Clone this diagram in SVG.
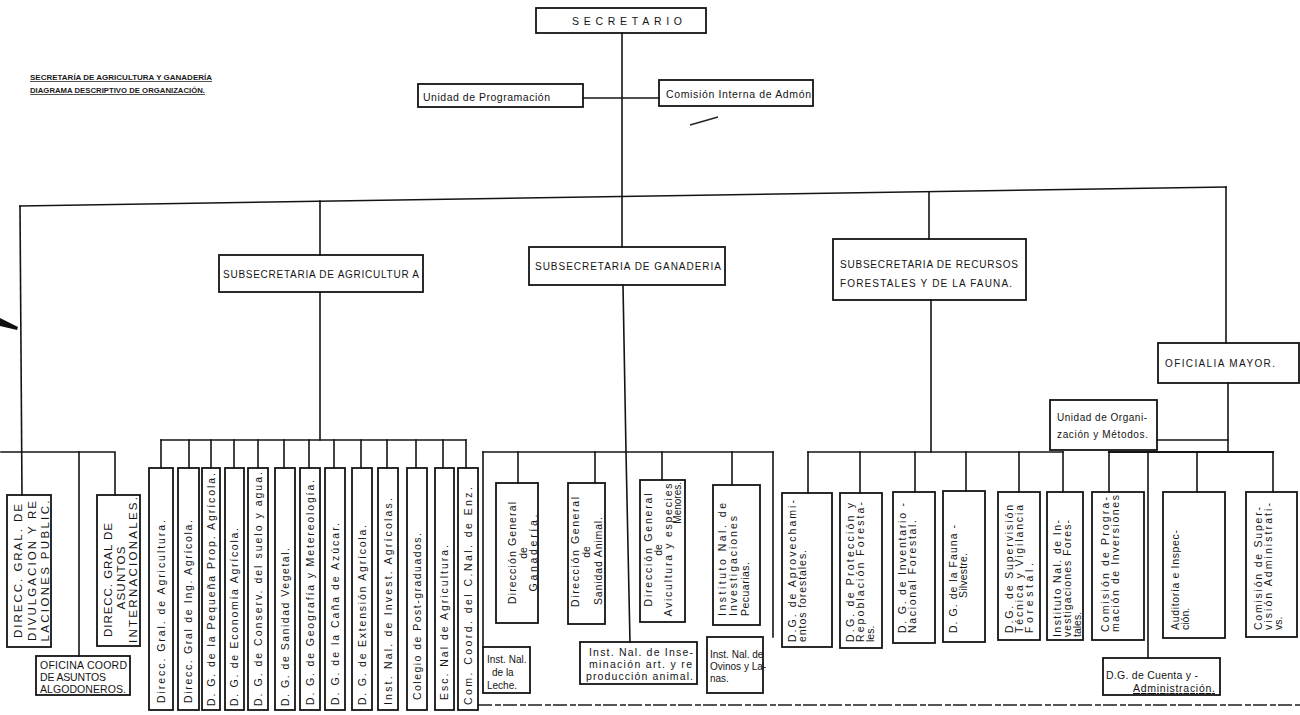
<svg xmlns="http://www.w3.org/2000/svg" width="1300" height="715" viewBox="0 0 1300 715">
<style>
.ln{stroke:#141414;stroke-width:1.6;fill:none;stroke-linecap:square}
.bx{fill:none;stroke:#141414;stroke-width:1.8}
.t{font-family:"Liberation Sans",Arial,sans-serif;fill:#141414;font-size:10.5px}
.s{font-size:10px}
.c{font-size:11.5px}
.h{font-family:"Liberation Sans Narrow","Liberation Sans",Arial,sans-serif;font-size:7.5px;font-weight:bold;fill:#1a1a1a;text-decoration:underline}
.m{text-anchor:middle}
.e{text-anchor:end}
</style>
<rect width="1300" height="715" fill="#ffffff"/>

<g id="header">
<text class="h" x="30" y="80" textLength="182" lengthAdjust="spacingAndGlyphs">SECRETARÍA DE AGRICULTURA Y GANADERÍA</text>
<text class="h" x="30" y="93" textLength="175" lengthAdjust="spacingAndGlyphs">DIAGRAMA DESCRIPTIVO DE ORGANIZACIÓN.</text>
</g>

<g id="marks">
<path d="M690,125 L718,117" stroke="#222" stroke-width="1.5" fill="none"/>
<polygon points="0,318 18,327 17,330 0,326" fill="#111"/>
<path d="M478,705 H1300" stroke="#555" stroke-width="2.2" stroke-dasharray="14 3 6 2" fill="none"/>
</g>

<g id="connectors">
<path class="ln" d="M622,33 V247"/>
<path class="ln" d="M583,98 H659"/>
<path class="ln" d="M20,206 L1226,187"/>
<path class="ln" d="M20,206 L22,495"/>
<path class="ln" d="M320,201 V255"/>
<path class="ln" d="M929,192 V239"/>
<path class="ln" d="M1226,187 V343"/>
<path class="ln" d="M1,452 H115 V495"/>
<path class="ln" d="M79,452 V656"/>
<path class="ln" d="M320,292 V440"/>
<path class="ln" d="M161,440 H466"/>
<path class="ln" d="M161,440 V468 M189,440 V468 M211,440 V468 M234,440 V468 M258,440 V468 M284,440 V468 M309,440 V468 M334,440 V468 M361,440 V468 M387,440 V468 M416,440 V468 M443,440 V468 M466,440 V468"/>
<path class="ln" d="M623,285 L626,452 L630,642"/>
<path class="ln" d="M483,452 H773"/>
<path class="ln" d="M483,452 V647 M518,452 V483 M595,452 V483 M662,452 V480 M732,452 V485 M773,452 V637"/>
<path class="ln" d="M931,300 V452"/>
<path class="ln" d="M808,452 H1063"/>
<path class="ln" d="M808,452 V493 M860,452 V493 M915,452 V492 M966,452 V491 M1019,452 V492 M1063,452 V492"/>
<path class="ln" d="M1228,383 V452"/>
<path class="ln" d="M1157,440 H1228"/>
<path class="ln" d="M1109,452 H1273" style="stroke-width:2.2"/>
<path class="ln" d="M1109,452 V492 M1148,452 V658 M1197,452 V492 M1273,452 V492"/>
</g>

<g id="secretario">
<rect class="bx" x="536" y="8" width="170" height="25"/>
<text class="t" x="572" y="25" textLength="110" lengthAdjust="spacing">SECRETARIO</text>
</g>
<g id="unidad-programacion">
<rect class="bx" x="418" y="84" width="165" height="23"/>
<text class="t" x="423" y="101" textLength="127" lengthAdjust="spacing">Unidad de Programación</text>
</g>
<g id="comision-interna">
<rect class="bx" x="659" y="80" width="154" height="26"/>
<text class="t" x="666" y="98" textLength="145" lengthAdjust="spacing">Comisión Interna de Admón</text>
</g>

<g id="sub-agricultura">
<rect class="bx" x="219" y="255" width="204" height="37"/>
<text class="t s" x="223" y="278" textLength="196" lengthAdjust="spacing">SUBSECRETARIA DE AGRICULTUR A</text>
</g>
<g id="sub-ganaderia">
<rect class="bx" x="529" y="247" width="196" height="38"/>
<text class="t s" x="535" y="270" textLength="186" lengthAdjust="spacing">SUBSECRETARIA DE GANADERIA</text>
</g>
<g id="sub-forestales">
<rect class="bx" x="833" y="239" width="193" height="61"/>
<text class="t s" x="840" y="268" textLength="178" lengthAdjust="spacing">SUBSECRETARIA DE RECURSOS</text>
<text class="t s" x="840" y="287" textLength="172" lengthAdjust="spacing">FORESTALES Y DE LA FAUNA.</text>
</g>
<g id="oficialia-mayor">
<rect class="bx" x="1158" y="343" width="141" height="40"/>
<text class="t s" x="1165" y="367" textLength="110" lengthAdjust="spacing">OFICIALIA MAYOR.</text>
</g>
<g id="unidad-organizacion">
<rect class="bx" x="1050" y="400" width="107" height="50"/>
<text class="t s" x="1057" y="421" textLength="90" lengthAdjust="spacing">Unidad de Organi-</text>
<text class="t s" x="1057" y="438" textLength="91" lengthAdjust="spacing">zación y Métodos.</text>
</g>

<g id="divulgacion">
<rect class="bx" x="7" y="495" width="44" height="152"/>
<g transform="translate(22,571) rotate(-90)">
<text class="t c m" x="0" y="0" textLength="134" lengthAdjust="spacing">DIRECC. GRAL. DE</text>
<text class="t c m" x="0" y="13.5" textLength="140" lengthAdjust="spacing">DIVULGACION Y RE</text>
<text class="t c m" x="0" y="27" textLength="141" lengthAdjust="spacing">LACIONES PUBLIC.</text>
</g>
</g>
<g id="asuntos-internacionales">
<rect class="bx" x="97" y="495" width="43" height="151"/>
<g transform="translate(112,572) rotate(-90)">
<text class="t c m" x="-8" y="0" textLength="114" lengthAdjust="spacing">DIRECC. GRAL DE</text>
<text class="t c m" x="-6" y="12.5" textLength="63" lengthAdjust="spacing">ASUNTOS</text>
<text class="t c m" x="2" y="25" textLength="146" lengthAdjust="spacing">INTERNACIONALES.</text>
</g>
</g>
<g id="oficina-algodoneros">
<rect class="bx" x="36" y="656" width="94" height="39"/>
<text class="t" x="40" y="669" textLength="87" lengthAdjust="spacing">OFICINA COORD</text>
<text class="t" x="40" y="681" textLength="66" lengthAdjust="spacing">DE ASUNTOS</text>
<text class="t" x="40" y="693" textLength="86" lengthAdjust="spacing">ALGODONEROS.</text>
</g>

<g id="agri-1"><rect class="bx" x="149" y="468" width="24" height="242"/><text class="t" transform="translate(164.5,703) rotate(-90)" textLength="183" lengthAdjust="spacing">Direcc. Gral. de Agricultura.</text></g>
<g id="agri-2"><rect class="bx" x="178" y="468" width="21" height="242"/><text class="t" transform="translate(192,703) rotate(-90)" textLength="183" lengthAdjust="spacing">Direcc. Gral de Ing. Agrícola.</text></g>
<g id="agri-3"><rect class="bx" x="202" y="468" width="18" height="242"/><text class="t" transform="translate(214.5,706) rotate(-90)" textLength="233" lengthAdjust="spacing">D. G. de la Pequeña Prop. Agrícola.</text></g>
<g id="agri-4"><rect class="bx" x="225" y="468" width="19" height="242"/><text class="t" transform="translate(238,706) rotate(-90)" textLength="178" lengthAdjust="spacing">D. G. de Economía Agrícola.</text></g>
<g id="agri-5"><rect class="bx" x="248" y="468" width="20" height="242"/><text class="t" transform="translate(261.5,706) rotate(-90)" textLength="234" lengthAdjust="spacing">D. G. de Conserv. del suelo y agua.</text></g>
<g id="agri-6"><rect class="bx" x="275" y="468" width="20" height="242"/><text class="t" transform="translate(288.5,706) rotate(-90)" textLength="158" lengthAdjust="spacing">D. G. de Sanidad Vegetal.</text></g>
<g id="agri-7"><rect class="bx" x="300" y="468" width="20" height="242"/><text class="t" transform="translate(313.5,705) rotate(-90)" textLength="225" lengthAdjust="spacing">D. G. de Geografía y Metereología.</text></g>
<g id="agri-8"><rect class="bx" x="325" y="468" width="20" height="242"/><text class="t" transform="translate(338.5,705) rotate(-90)" textLength="182" lengthAdjust="spacing">D. G. de la Caña de Azúcar.</text></g>
<g id="agri-9"><rect class="bx" x="352" y="468" width="20" height="242"/><text class="t" transform="translate(365.5,705) rotate(-90)" textLength="180" lengthAdjust="spacing">D. G. de Extensión Agrícola.</text></g>
<g id="agri-10"><rect class="bx" x="378" y="468" width="20" height="242"/><text class="t" transform="translate(391.5,705) rotate(-90)" textLength="207" lengthAdjust="spacing">Inst. Nal. de Invest. Agrícolas.</text></g>
<g id="agri-11"><rect class="bx" x="407" y="468" width="20" height="242"/><text class="t" transform="translate(420.5,700) rotate(-90)" textLength="167" lengthAdjust="spacing">Colegio de Post-graduados.</text></g>
<g id="agri-12"><rect class="bx" x="435" y="468" width="19" height="242"/><text class="t" transform="translate(448,700) rotate(-90)" textLength="155" lengthAdjust="spacing">Esc. Nal de Agricultura.</text></g>
<g id="agri-13"><rect class="bx" x="458" y="468" width="20" height="242"/><text class="t" transform="translate(471.5,705) rotate(-90)" textLength="218" lengthAdjust="spacing">Com. Coord. del C.Nal. de Enz.</text></g>

<g id="dg-ganaderia">
<rect class="bx" x="496" y="483" width="42" height="140"/>
<g transform="translate(516,553) rotate(-90)">
<text class="t m" x="0" y="0" textLength="102" lengthAdjust="spacing">Dirección General</text>
<text class="t m" x="0" y="10.5">de</text>
<text class="t m" x="0" y="21" textLength="77" lengthAdjust="spacing">Ganadería.</text>
</g>
</g>
<g id="dg-sanidad-animal">
<rect class="bx" x="568" y="483" width="37" height="141"/>
<g transform="translate(578.5,552) rotate(-90)">
<text class="t m" x="0" y="0" textLength="110" lengthAdjust="spacing">Dirección General</text>
<text class="t m" x="0" y="11.5">de</text>
<text class="t m" x="-9" y="23" textLength="88" lengthAdjust="spacing">Sanidad Animal.</text>
</g>
</g>
<g id="dg-avicultura">
<rect class="bx" x="640" y="480" width="45" height="142"/>
<g transform="translate(651.5,550) rotate(-90)">
<text class="t m" x="0" y="0" textLength="113" lengthAdjust="spacing">Dirección General</text>
<text class="t m" x="0" y="10">de</text>
<text class="t m" x="0" y="20" textLength="133" lengthAdjust="spacing">Avicultura y especies</text>
</g>
<text class="t s e" transform="translate(681,482) rotate(-90)">Menores.</text>
</g>
<g id="inst-pecuarias">
<rect class="bx" x="713" y="485" width="47" height="140"/>
<g transform="translate(725.5,616) rotate(-90)">
<text class="t" x="0" y="0" textLength="113" lengthAdjust="spacing">Instituto Nal. de</text>
<text class="t" x="0" y="11.5" textLength="100" lengthAdjust="spacing">Investigaciones</text>
<text class="t" x="0" y="23" textLength="54" lengthAdjust="spacing">Pecuarias.</text>
</g>
</g>
<g id="inst-leche">
<rect class="bx" x="483" y="647" width="47" height="46"/>
<text class="t s" x="487" y="663">Inst. Nal.</text>
<text class="t s" x="492" y="676">de la</text>
<text class="t s" x="487" y="689">Leche.</text>
</g>
<g id="inst-inseminacion">
<rect class="bx" x="580" y="642" width="117" height="42"/>
<text class="t" x="589" y="656" textLength="104" lengthAdjust="spacing">Inst. Nal. de Inse-</text>
<text class="t" x="589" y="668" textLength="103" lengthAdjust="spacing">minación art. y re</text>
<text class="t" x="586" y="680" textLength="107" lengthAdjust="spacing">producción animal.</text>
</g>
<g id="inst-ovinos">
<rect class="bx" x="707" y="637" width="56" height="56"/>
<text class="t s" x="710" y="658">Inst. Nal. de</text>
<text class="t s" x="710" y="670">Ovinos y La-</text>
<text class="t s" x="710" y="682">nas.</text>
</g>

<g id="dg-aprovechamientos">
<rect class="bx" x="782" y="493" width="50" height="154"/>
<g transform="translate(795.5,642) rotate(-90)">
<text class="t" x="0" y="0" textLength="142" lengthAdjust="spacing">D.G. de Aprovechami-</text>
<text class="t" x="0" y="10" textLength="92" lengthAdjust="spacing">entos forestales.</text>
</g>
</g>
<g id="dg-proteccion">
<rect class="bx" x="840" y="493" width="42" height="155"/>
<g transform="translate(853.5,642) rotate(-90)">
<text class="t" x="0" y="0" textLength="139" lengthAdjust="spacing">D.G. de Protección y</text>
<text class="t" x="0" y="10" textLength="140" lengthAdjust="spacing">Repoblación Foresta-</text>
<text class="t" x="0" y="20">les.</text>
</g>
</g>
<g id="dg-inventario">
<rect class="bx" x="893" y="492" width="42" height="151"/>
<g transform="translate(905.5,633) rotate(-90)">
<text class="t" x="0" y="0" textLength="130" lengthAdjust="spacing">D. G. de Inventario -</text>
<text class="t" x="0" y="10" textLength="113" lengthAdjust="spacing">Nacional Forestal.</text>
</g>
</g>
<g id="dg-fauna">
<rect class="bx" x="943" y="491" width="42" height="151"/>
<g transform="translate(956.5,633) rotate(-90)">
<text class="t" x="0" y="0" textLength="108" lengthAdjust="spacing">D. G. de la Fauna -</text>
<text class="t" x="35" y="10" textLength="45" lengthAdjust="spacing">Silvestre.</text>
</g>
</g>
<g id="dg-supervision">
<rect class="bx" x="998" y="492" width="42" height="148"/>
<g transform="translate(1012.5,633) rotate(-90)">
<text class="t" x="0" y="0" textLength="128" lengthAdjust="spacing">D.G. de Supervisión</text>
<text class="t" x="0" y="10" textLength="128" lengthAdjust="spacing">Técnica y Vigilancia</text>
<text class="t" x="0" y="20" textLength="70" lengthAdjust="spacing">Forestal.</text>
</g>
</g>
<g id="inst-forestales">
<rect class="bx" x="1047" y="492" width="36" height="148"/>
<g transform="translate(1060.5,637) rotate(-90)">
<text class="t" x="0" y="0" textLength="117" lengthAdjust="spacing">Instituto Nal. de In-</text>
<text class="t" x="0" y="10" textLength="117" lengthAdjust="spacing">vestigaciones Fores-</text>
<text class="t" x="0" y="20">tales.</text>
</g>
</g>

<g id="comision-programacion">
<rect class="bx" x="1092" y="492" width="52" height="148"/>
<g transform="translate(1108.5,632) rotate(-90)">
<text class="t" x="0" y="0" textLength="135" lengthAdjust="spacing">Comisión de Progra-</text>
<text class="t" x="0" y="10" textLength="137" lengthAdjust="spacing">mación de Inversiones</text>
</g>
</g>
<g id="auditoria">
<rect class="bx" x="1163" y="492" width="62" height="146"/>
<g transform="translate(1178.5,630) rotate(-90)">
<text class="t" x="0" y="0" textLength="100" lengthAdjust="spacing">Auditoría e Inspec-</text>
<text class="t" x="0" y="10">ción.</text>
</g>
</g>
<g id="comision-supervision">
<rect class="bx" x="1246" y="492" width="51" height="145"/>
<g transform="translate(1261.5,630) rotate(-90)">
<text class="t" x="0" y="0" textLength="123" lengthAdjust="spacing">Comisión de Super-</text>
<text class="t" x="0" y="10" textLength="127" lengthAdjust="spacing">visión Administrati-</text>
<text class="t" x="0" y="20">vs.</text>
</g>
</g>
<g id="dg-cuenta">
<rect class="bx" x="1103" y="658" width="117" height="37"/>
<text class="t" x="1106" y="679" textLength="92" lengthAdjust="spacing">D.G. de Cuenta y -</text>
<text class="t" x="1133" y="692" textLength="82" lengthAdjust="spacing" style="text-decoration:underline">Administración.</text>
</g>
</svg>
